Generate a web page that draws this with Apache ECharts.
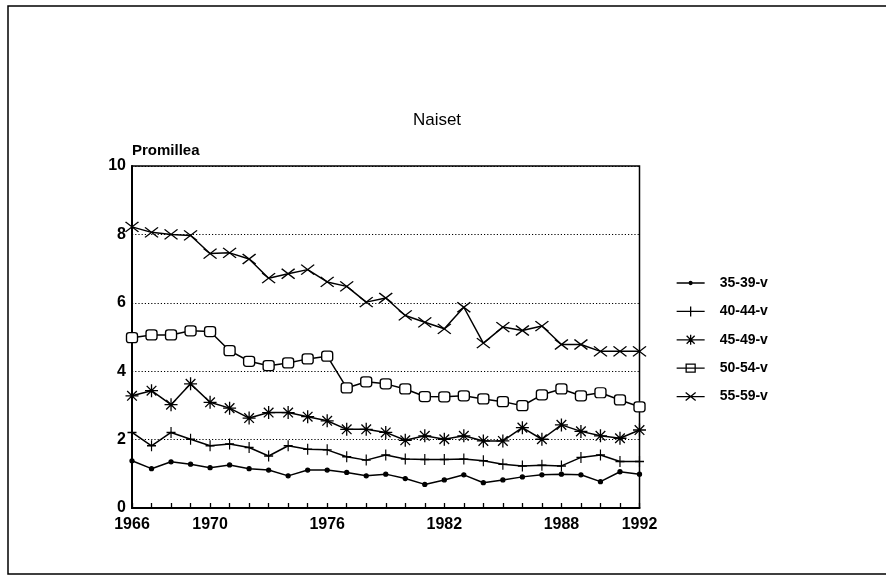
<!DOCTYPE html>
<html>
<head>
<meta charset="utf-8">
<script src="https://cdn.jsdelivr.net/npm/echarts@6/dist/echarts.min.js"></script>
<style>html,body{margin:0;padding:0;background:#fff}#c{width:886px;height:575px}</style>
</head>
<body>
<div id="c"></div>
<script>
const years = [1966,1967,1968,1969,1970,1971,1972,1973,1974,1975,1976,1977,1978,1979,1980,1981,1982,1983,1984,1985,1986,1987,1988,1989,1990,1991,1992];
const labeledYears = [1966,1970,1976,1982,1988,1992];
const seriesNames = ['35-39-v','40-44-v','45-49-v','50-54-v','55-59-v'];
const v35_39 = [1.38,1.15,1.35,1.28,1.18,1.26,1.15,1.11,0.94,1.11,1.11,1.04,0.94,0.99,0.86,0.69,0.82,0.97,0.74,0.82,0.91,0.97,0.99,0.97,0.77,1.06,0.99];
const v40_44 = [2.21,1.82,2.21,2.01,1.82,1.87,1.77,1.52,1.82,1.72,1.70,1.50,1.40,1.55,1.43,1.42,1.42,1.43,1.38,1.28,1.23,1.25,1.23,1.48,1.55,1.36,1.36];
const v45_49 = [3.28,3.43,3.02,3.63,3.09,2.92,2.63,2.79,2.79,2.67,2.55,2.30,2.30,2.21,1.98,2.11,2.01,2.11,1.96,1.96,2.35,2.01,2.43,2.24,2.11,2.04,2.28];
const v50_54 = [4.98,5.06,5.06,5.18,5.16,4.60,4.29,4.16,4.24,4.36,4.44,3.51,3.69,3.63,3.48,3.26,3.25,3.28,3.19,3.11,2.99,3.31,3.48,3.28,3.37,3.16,2.96];
const v55_59 = [8.22,8.06,8.00,7.97,7.44,7.46,7.28,6.72,6.85,6.97,6.61,6.48,6.02,6.14,5.63,5.43,5.24,5.87,4.82,5.29,5.19,5.32,4.78,4.78,4.58,4.58,4.58];
const yTicks = [0,2,4,6,8,10];

const allValues = [v35_39, v40_44, v45_49, v50_54, v55_59];
const symbols = [
  {symbol:'circle', size:4, color:'#000'},
  {symbol:'path://M0,-1L0,1M-0.8,0L0.8,0', size:[9,11], color:'#000'},
  {symbol:'path://M-1,-1L1,1M-1,1L1,-1M0,-1.35L0,1.35M-1.35,0L1.35,0', size:13, color:'#000'},
  {symbol:'roundRect', size:[11,10], color:'#fff'},
  {symbol:'path://M-1,-0.8L1,0.8M-1,0.8L1,-0.8', size:[13,10], color:'#000'}
];
// legend icons: line + marker, drawn in a 28 x 12 box
const legendIcons = [
  'path://M0,6L28,6M12.5,6A1.5,1.5,0,1,0,15.5,6A1.5,1.5,0,1,0,12.5,6Z',
  'path://M0,6L28,6M14,1L14,11',
  'path://M0,6L28,6M10,2L18,10M10,10L18,2M14,1L14,11M9,6L19,6',
  'path://M0,6L28,6M9.5,2L18.5,2L18.5,10L9.5,10Z',
  'path://M0,6L28,6M9,2L19,10M9,10L19,2'
];

const series = seriesNames.map((name, i) => ({
  name: name,
  type: 'line',
  data: years.map((y, k) => [y, allValues[i][k]]),
  symbol: symbols[i].symbol,
  symbolSize: symbols[i].size,
  showAllSymbol: true,
  lineStyle: {color:'#000', width:1.5},
  itemStyle: {color: symbols[i].color, borderColor:'#000', borderWidth:1.3},
  emphasis: {disabled:true},
  animation: false,
  z: 3 + i
}));

const chart = echarts.init(document.getElementById('c'), null, {renderer:'canvas'});
chart.setOption({
  backgroundColor: '#fff',
  animation: false,
  textStyle: {fontFamily: 'Liberation Sans, Arial, sans-serif'},
  legend: {
    orient: 'vertical', left: 676, top: 276, padding: 0,
    itemWidth: 28, itemHeight: 12, itemGap: 14.4,
    data: seriesNames.map((n, i) => ({
      name: n, icon: legendIcons[i],
      itemStyle: {color: symbols[i].color, borderColor:'#000', borderWidth:1.3}
    })),
    textStyle: {fontSize: 14, fontWeight: 'bold', color: '#000', fontFamily: 'Liberation Sans', padding:[0,0,0,10]}
  },
  grid: {left: 132, right: 246.5, top: 166, bottom: 67, show: true, borderColor: '#000', borderWidth: 1.5, containLabel: false},
  xAxis: {
    type: 'value', min: 1966, max: 1992, interval: 1,
    axisLine: {lineStyle: {color:'#000', width: 2}},
    axisTick: {inside: true, length: 5, lineStyle: {color:'#000', width: 1.3}},
    splitLine: {show: false},
    axisLabel: {
      margin: 9, color:'#000', fontSize: 16, fontWeight:'bold', fontFamily:'Liberation Sans',
      formatter: v => labeledYears.indexOf(v) >= 0 ? String(v) : ''
    }
  },
  yAxis: {
    type: 'value', min: yTicks[0], max: yTicks[yTicks.length-1], interval: 2,
    axisLine: {show: true, lineStyle: {color:'#000', width: 2}},
    axisTick: {show: false},
    splitLine: {show: true, lineStyle: {color:'#000', width: 1, type: [1.2,2]}},
    axisLabel: {margin: 6, color:'#000', fontSize: 16, fontWeight:'bold', fontFamily:'Liberation Sans'}
  },
  graphic: [
    {type:'rect', shape:{x: 8, y: 6, width: 900, height: 568}, style:{fill:'none', stroke:'#000', lineWidth:1.5}, silent:true},
    {type:'text', x: 437, y: 120, style:{text:'Naiset', fontSize: 17, fill:'#000', fontFamily:'Liberation Sans', align:'center', verticalAlign:'middle'}},
    {type:'text', x: 132, y: 151, style:{text:'Promillea', fontSize: 15, fontWeight:'bold', fill:'#000', fontFamily:'Liberation Sans', verticalAlign:'middle'}}
  ],
  series: series
});
</script>
</body>
</html>
